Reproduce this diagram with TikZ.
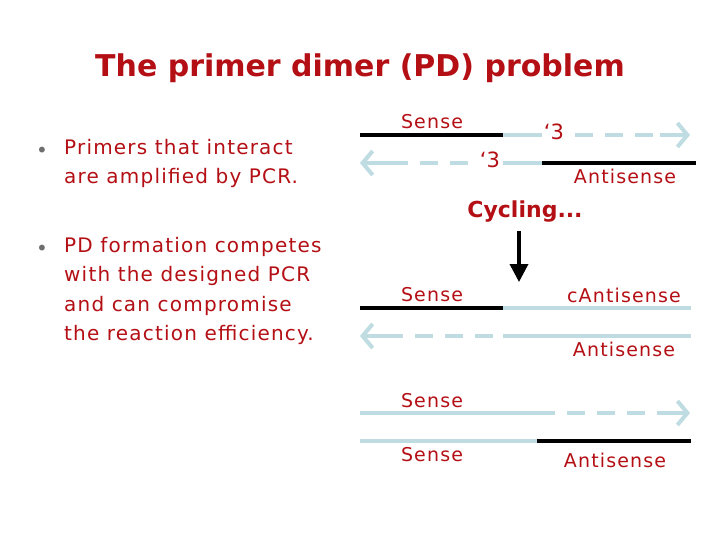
\documentclass[tikz,border=0pt]{standalone}
\usepackage{fontspec}
\setmainfont{DejaVu Sans}
\usetikzlibrary{arrows.meta}
\definecolor{dred}{RGB}{180,15,20}
\definecolor{lblue}{RGB}{190,220,225}
\definecolor{bgrey}{RGB}{110,110,110}
\tikzset{
  lbl/.style={text=dred,font=\fontsize{19}{20}\selectfont\addfontfeature{LetterSpace=6},inner sep=0pt},
  blk/.style={line width=4.5pt,black},
  blu/.style={line width=4.5pt,lblue},
  bdash/.style={line width=4.5pt,lblue,dash pattern=on 18pt off 12pt},
  tip/.style={line width=4pt,lblue,-{Straight Barb[length=10pt,width=24pt]}},
}
\begin{document}
\begin{tikzpicture}[x=1pt,y=-1pt]
\useasboundingbox[fill=white] (0,0) rectangle (720,540);
\node[text=dred,font=\fontsize{30}{32}\selectfont\bfseries] (title) at (360,68) {The primer dimer (PD) problem};
\node[text=bgrey,font=\fontsize{20}{18}\selectfont] (b1) at (42,152) {•};
\node[lbl,anchor=north west,align=left,font=\fontsize{20}{29.5}\selectfont\addfontfeature{LetterSpace=6}] (t1) at (64,139) {Primers that interact\\are amplified by PCR.};
\node[text=bgrey,font=\fontsize{20}{18}\selectfont] (b2) at (42,250) {•};
\node[lbl,anchor=north west,align=left,font=\fontsize{20}{29.5}\selectfont\addfontfeature{LetterSpace=6}] (t2) at (64,237) {PD formation competes\\with the designed PCR\\and can compromise\\the reaction efficiency.};
% row 1
\coordinate (r1a) at (360,135); \coordinate (r1b) at (503,135); \coordinate (r1c) at (542,135);
\coordinate (r1d) at (575,135); \coordinate (r1e) at (660,135); \coordinate (r1f) at (690,135);
\draw[blk] (r1a)--(r1b); \draw[blu] (r1b)--(r1c);
\draw[bdash] (r1d)--(r1e); \draw[tip] (r1e)--(r1f);
\node[lbl,font=\fontsize{21}{22}\selectfont] (p1) at (554,132) {‘3};
\node[lbl] (s1) at (432,122) {Sense};
% row 2
\coordinate (r2a) at (360,163); \coordinate (r2b) at (390,163); \coordinate (r2c) at (470,163);
\coordinate (r2d) at (503,163); \coordinate (r2e) at (542,163); \coordinate (r2f) at (696,163);
\draw[tip] (r2b)--(r2a); \draw[bdash] (r2b)--(r2c);
\draw[blu] (r2d)--(r2e); \draw[blk] (r2e)--(r2f);
\node[lbl,font=\fontsize{21}{22}\selectfont] (p2) at (490,160) {‘3};
\node[lbl] (a1) at (625,176) {Antisense};
% cycling
\node[lbl,font=\fontsize{22}{22}\selectfont\bfseries] (cyc) at (525,212) {Cycling...};
\coordinate (arr) at (519,282);
\draw[line width=3.5pt,-{Triangle[length=18pt,width=18pt]}] (cyc.south -| arr) ++(0,8) -- (arr);
% row 3
\coordinate (r3a) at (360,308); \coordinate (r3b) at (503,308); \coordinate (r3c) at (691,308);
\draw[blk] (r3a)--(r3b); \draw[blu] (r3b)--(r3c);
\node[lbl] (s3) at (432,295) {Sense};
\node[lbl] (ca) at (624,295) {cAntisense};
% row 4
\coordinate (r4a) at (360,336); \coordinate (r4b) at (385,336); \coordinate (r4c) at (495,336); \coordinate (r4d) at (503,336); \coordinate (r4e) at (691,336);
\draw[tip] (r4b)--(r4a); \draw[bdash] (r4b)--(r4c); \draw[blu] (r4d)--(r4e);
\node[lbl] (a4) at (624,349) {Antisense};
% row 5
\coordinate (r5a) at (360,413); \coordinate (r5b) at (555,413); \coordinate (r5c) at (567,413); \coordinate (r5d) at (660,413); \coordinate (r5e) at (690,413);
\draw[blu] (r5a)--(r5b); \draw[bdash] (r5c)--(r5d); \draw[tip] (r5d)--(r5e);
\node[lbl] (s5) at (432,401) {Sense};
% row 6
\coordinate (r6a) at (360,441); \coordinate (r6b) at (537,441); \coordinate (r6c) at (691,441);
\draw[blu] (r6a)--(r6b); \draw[blk] (r6b)--(r6c);
\node[lbl] (s6) at (432,455) {Sense};
\node[lbl] (a6) at (615,460) {Antisense};
\end{tikzpicture}
\end{document}
